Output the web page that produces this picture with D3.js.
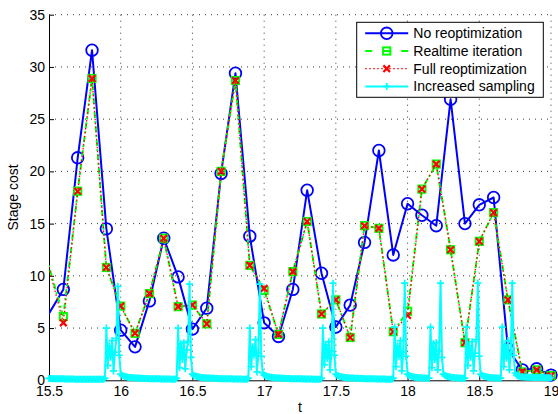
<!DOCTYPE html>
<html>
<head>
<meta charset="utf-8">
<script src="https://cdn.jsdelivr.net/npm/d3@7/dist/d3.min.js"></script>
<style>
  body { margin: 0; background: #fff; }
  text { font-family: "Liberation Sans", Arial, Helvetica, sans-serif; }
</style>
</head>
<body>
<div id="vis"></div>
<script>
// sample times of the three coarse controllers
// (the 15.4 point only feeds the segment that enters the axes)
var coarseT = [15.4, 15.6, 15.7, 15.8, 15.9, 16.0, 16.1, 16.2, 16.3, 16.4, 16.5, 16.6,
  16.7, 16.8, 16.9, 17.0, 17.1, 17.2, 17.3, 17.4, 17.5, 17.6, 17.7, 17.8, 17.9,
  18.0, 18.1, 18.2, 18.3, 18.4, 18.5, 18.6, 18.7, 18.8, 18.9, 19.0];

var noReopt = [4.1, 8.7, 21.3, 31.6, 14.5, 4.8, 3.2, 7.6, 13.6, 9.9, 4.9, 6.9,
  19.8, 29.4, 13.8, 5.5, 4.2, 8.7, 18.2, 10.25, 5.1, 7.2, 13.2, 22.0, 12.0,
  16.9, 15.8, 14.8, 26.9, 15.0, 16.8, 17.5, 3.0, 1.0, 1.1, 0.5];

var realtimeIter = [15.7, 6.1, 18.1, 28.9, 10.8, 7.1, 4.5, 8.3, 13.6, 7.05, 7.2, 5.4,
  20.0, 28.7, 11.0, 8.6, 4.4, 10.4, 15.2, 6.35, 7.7, 4.1, 14.8, 14.55, 4.65,
  6.6, 18.3, 20.7, 12.5, 3.6, 13.3, 16.05, 7.7, 0.8, 1.0, 0.45];

var fullReopt = [16.0, 5.5, 18.1, 28.9, 10.8, 7.1, 4.5, 8.3, 13.6, 7.05, 7.2, 5.4,
  20.0, 28.7, 11.0, 8.8, 4.4, 10.4, 15.2, 6.35, 7.7, 4.1, 14.8, 14.55, 4.65,
  6.2, 18.3, 20.7, 12.5, 3.6, 13.3, 16.05, 7.7, 0.8, 1.0, 0.45];

// increased sampling: one value every 0.01 starting at 15.50
var fineStart = 15.5;
var fineStep = 0.01;
var increased = [
  0.18,0.17,0.17,0.16,0.16,0.15,0.15,0.15,0.14,0.14,   // 15.5
  0.14,0.13,0.13,0.13,0.12,0.12,0.12,0.12,0.11,0.11,   // 15.6
  0.11,0.11,0.10,0.10,0.10,0.10,0.10,0.10,0.10,0.10,   // 15.7
  0.10,0.10,0.10,0.10,0.10,0.10,0.10,0.10,0.10,0.20,   // 15.8
  5.0,1.4,3.3,2.2,3.8,0.9,2.7,4.0,9.0,2.4,             // 15.9
  0.60,0.45,0.40,0.36,0.33,0.30,0.28,0.26,0.25,0.24,   // 16.0
  0.23,0.22,0.21,0.20,0.20,0.19,0.18,0.18,0.17,0.17,   // 16.1
  0.16,0.16,0.15,0.15,0.15,0.14,0.14,0.14,0.13,0.13,   // 16.2
  0.13,0.12,0.12,0.12,0.12,0.11,0.11,0.11,0.11,0.20,   // 16.3
  5.0,1.2,3.5,2.0,3.6,1.1,2.9,3.7,9.2,2.2,             // 16.4
  0.60,0.45,0.40,0.36,0.33,0.30,0.28,0.26,0.25,0.24,   // 16.5
  0.23,0.22,0.21,0.20,0.20,0.19,0.18,0.18,0.17,0.17,   // 16.6
  0.16,0.16,0.15,0.15,0.15,0.14,0.14,0.14,0.13,0.13,   // 16.7
  0.13,0.12,0.12,0.12,0.12,0.11,0.11,0.11,0.11,0.20,   // 16.8
  5.0,1.3,3.2,2.4,3.9,0.8,2.6,9.2,2.3,0.70,            // 16.9
  0.50,0.42,0.38,0.34,0.31,0.29,0.27,0.25,0.24,0.23,   // 17.0
  0.22,0.21,0.20,0.20,0.19,0.18,0.18,0.17,0.17,0.16,   // 17.1
  0.16,0.15,0.15,0.15,0.14,0.14,0.14,0.13,0.13,0.13,   // 17.2
  0.12,0.12,0.12,0.12,0.11,0.11,0.11,0.11,0.11,0.11,   // 17.3
  0.20,5.0,1.5,3.4,2.1,3.7,1.0,2.8,9.3,2.4,            // 17.4
  0.60,0.45,0.40,0.36,0.33,0.30,0.28,0.26,0.25,0.24,   // 17.5
  0.23,0.22,0.21,0.20,0.20,0.19,0.18,0.18,0.17,0.17,   // 17.6
  0.16,0.16,0.15,0.15,0.15,0.14,0.14,0.14,0.13,0.13,   // 17.7
  0.13,0.12,0.12,0.12,0.12,0.11,0.11,0.11,0.11,0.11,   // 17.8
  0.20,5.1,1.3,3.3,2.3,3.8,0.9,2.7,9.3,2.3,            // 17.9
  0.60,0.45,0.40,0.36,0.33,0.30,0.28,0.26,0.25,0.24,   // 18.0
  0.23,0.22,0.21,0.20,0.20,0.20,5.1,1.2,3.5,2.0,       // 18.1
  3.6,1.0,2.8,9.3,2.2,0.60,0.45,0.40,0.36,0.33,        // 18.2
  0.30,0.28,0.26,0.25,0.24,0.23,0.22,0.21,0.20,0.20,   // 18.3
  0.20,5.1,1.4,3.3,2.2,3.7,0.9,2.6,3.9,9.3,            // 18.4
  2.3,0.60,0.45,0.40,0.36,0.33,0.30,0.28,0.26,0.25,    // 18.5
  0.24,0.23,0.22,0.21,0.20,0.20,5.1,1.3,3.4,2.1,       // 18.6
  3.8,1.0,2.7,9.3,2.4,0.70,0.50,0.42,0.38,0.35,        // 18.7
  0.33,0.32,0.31,0.30,0.30,0.29,0.29,0.28,0.28,0.28,   // 18.8
  0.27,0.27,0.27,0.26,0.26,0.26,0.25,0.25,0.25,0.25,   // 18.9
  0.25                                                 // 19.0
];

var xTicks = [15.5, 16, 16.5, 17, 17.5, 18, 18.5, 19];
var yTicks = [0, 5, 10, 15, 20, 25, 30, 35];
var legendLabels = ["No reoptimization", "Realtime iteration", "Full reoptimization", "Increased sampling"];

// size of the figure and of the axes box inside it
var width = 558;
var height = 414;
var margin = {top: 14.7, left: 49, right: 7, bottom: 33.7};
var w = width - margin.left - margin.right;
var h = height - margin.top - margin.bottom;
var fontSize = 14;

var x = d3.scaleLinear().domain([15.5, 19]).range([0, w]);
var y = d3.scaleLinear().domain([0, 35]).range([h, 0]);

var svg = d3.select("#vis").append("svg")
  .attr("width", width)
  .attr("height", height);

svg.append("defs").append("clipPath")
  .attr("id", "plotclip")
  .append("rect")
  .attr("width", w)
  .attr("height", h);

var g = svg.append("g")
  .attr("transform", "translate(" + margin.left + "," + margin.top + ")");

// dotted grid
g.selectAll(".vgrid").data(xTicks.slice(1))
  .enter().append("line")
  .attr("class", "vgrid")
  .attr("x1", function(d) { return x(d); })
  .attr("x2", function(d) { return x(d); })
  .attr("y1", 0).attr("y2", h)
  .attr("stroke", "#222").attr("stroke-width", 0.9)
  .attr("stroke-dasharray", "1,5");

g.selectAll(".hgrid").data(yTicks.slice(1))
  .enter().append("line")
  .attr("class", "hgrid")
  .attr("x1", 0).attr("x2", w)
  .attr("y1", function(d) { return y(d); })
  .attr("y2", function(d) { return y(d); })
  .attr("stroke", "#222").attr("stroke-width", 0.9)
  .attr("stroke-dasharray", "1,5");

// axes (under the data, like matlab's default layer)
var xAxis = g.append("g")
  .attr("transform", "translate(0," + h + ")")
  .call(d3.axisBottom(x).tickValues(xTicks).tickSize(-5).tickSizeOuter(0)
    .tickPadding(5.8).tickFormat(String));

var yAxis = g.append("g")
  .call(d3.axisLeft(y).tickValues(yTicks).tickSize(-5).tickSizeOuter(0)
    .tickPadding(4).tickFormat(String));

[xAxis, yAxis].forEach(function(a) {
  a.selectAll("text").attr("font-size", fontSize).attr("fill", "#000")
    .style("font-family", "'Liberation Sans', Arial, Helvetica, sans-serif");
  a.selectAll("line").attr("stroke", "#000");
  a.select(".domain").attr("stroke", "#000");
});

svg.append("text")
  .attr("transform", "translate(18," + (margin.top + h / 2) + ") rotate(-90)")
  .attr("text-anchor", "middle")
  .attr("font-size", fontSize)
  .text("Stage cost");

svg.append("text")
  .attr("x", margin.left + w / 2)
  .attr("y", 412)
  .attr("text-anchor", "middle")
  .attr("font-size", fontSize)
  .text("t");

// marker shapes
function marker(sel, type, color) {
  if (type == "circle") {
    sel.append("circle").attr("r", 5.8)
      .attr("fill", "none").attr("stroke", color).attr("stroke-width", 1.8);
  } else if (type == "square") {
    sel.append("rect").attr("x", -3.6).attr("y", -3.6)
      .attr("width", 7.2).attr("height", 7.2)
      .attr("fill", "none").attr("stroke", color).attr("stroke-width", 2);
  } else if (type == "x") {
    sel.append("path").attr("d", "M-3.3,-3.3L3.3,3.3M-3.3,3.3L3.3,-3.3")
      .attr("fill", "none").attr("stroke", color).attr("stroke-width", 2.2);
  } else if (type == "plus") {
    sel.append("path").attr("d", "M-3.5,0L3.5,0M0,-3.5L0,3.5")
      .attr("fill", "none").attr("stroke", color).attr("stroke-width", 1.7);
  }
}

var series = [
  {name: legendLabels[0], t: coarseT, v: noReopt, color: "#0000ff", dash: null, legendDash: null, width: 2, marker: "circle"},
  {name: legendLabels[1], t: coarseT, v: realtimeIter, color: "#00ff00", dash: "6,3,2,3", legendDash: "7,10,9,10,7", width: 2, marker: "square"},
  {name: legendLabels[2], t: coarseT, v: fullReopt, color: "#ff0000", dash: "1.5,2.5", legendDash: "1.5,2.5", width: 1.3, marker: "x"},
  {name: legendLabels[3], t: increased.map(function(d, i) { return fineStart + i * fineStep; }),
    v: increased, color: "#00ffff", dash: null, legendDash: null, width: 2, marker: "plus"}
];

var line = d3.line()
  .x(function(d) { return x(d[0]); })
  .y(function(d) { return y(d[1]); });

series.forEach(function(s) {
  var pts = s.t.map(function(t, i) { return [t, s.v[i]]; });

  g.append("path")
    .datum(pts)
    .attr("d", line)
    .attr("clip-path", "url(#plotclip)")
    .attr("fill", "none")
    .attr("stroke", s.color)
    .attr("stroke-width", s.width)
    .attr("stroke-linejoin", "round")
    .attr("stroke-dasharray", s.dash);

  var inside = pts.filter(function(p) { return p[0] >= 15.5 - 1e-9 && p[0] <= 19 + 1e-9; });
  g.append("g").selectAll("g").data(inside)
    .enter().append("g")
    .attr("transform", function(p) { return "translate(" + x(p[0]) + "," + y(p[1]) + ")"; })
    .each(function() { marker(d3.select(this), s.marker, s.color); });
});

// legend box
var legend = svg.append("g").attr("transform", "translate(356.7,22.3)");
legend.append("rect")
  .attr("width", 186.6).attr("height", 75)
  .attr("fill", "#fff").attr("stroke", "#000").attr("stroke-width", 1);

var rows = legend.selectAll(".row").data(series)
  .enter().append("g")
  .attr("class", "row")
  .attr("transform", function(d, i) { return "translate(0," + (11 + i * 17.7) + ")"; });

rows.append("line")
  .attr("x1", 8.5).attr("x2", 51.5)
  .attr("stroke", function(d) { return d.color; })
  .attr("stroke-width", function(d) { return d.width; })
  .attr("stroke-dasharray", function(d) { return d.legendDash; });

rows.append("g")
  .attr("transform", "translate(30,0)")
  .each(function(d) { marker(d3.select(this), d.marker, d.color); });

rows.append("text")
  .attr("x", 56.6)
  .attr("y", 5)
  .attr("font-size", fontSize)
  .text(function(d) { return d.name; });
</script>
</body>
</html>
